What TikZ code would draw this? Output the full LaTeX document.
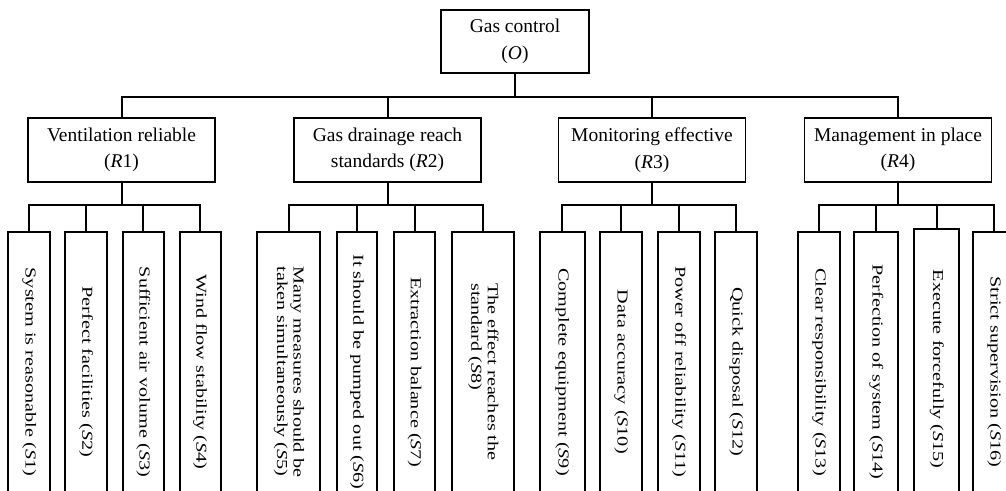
\documentclass[tikz,border=0pt]{standalone}
\usepackage{fontspec}
\setmainfont{Liberation Serif}
\usepackage{graphicx}
\newcommand\leaftext[1]{\rotatebox{-90}{\scalebox{1.33}[1]{\fontsize{7.6}{8.2}\selectfont #1}}}
\newcommand\twoline[2]{\begin{tabular}{@{}l@{}}#1\\#2\end{tabular}}
\begin{document}
\begin{tikzpicture}[x=0.5pt,y=-0.5pt, line width=0.9pt,
  box/.style={draw, inner sep=0pt, align=center, font=\fontsize{9.75}{13.3}\selectfont},
  topbox/.style={box, minimum width=74pt, minimum height=31.5pt},
  midbox/.style={box, minimum width=93.5pt, minimum height=32pt},
  leaf/.style={draw, inner sep=0pt, anchor=north, minimum height=140pt},
  conn/.style={line width=1pt}]
\useasboundingbox (0,0) rectangle (1006,491);
\clip (0,0) rectangle (1006,491);
% top
\node[topbox] (O) at (515,41.5) {Gas control\\(\textit{O})};
% middle level
\node[midbox] (R1) at (121.5,150) {Ventilation reliable\\(\textit{R}1)};
\node[midbox] (R2) at (387.5,150) {Gas drainage reach\\standards (\textit{R}2)};
\node[midbox] (R3) at (652,150) {Monitoring effective\\(\textit{R}3)};
\node[midbox] (R4) at (898,150) {Management in place\\(\textit{R}4)};
% leaves
\node[leaf, minimum width=20.85pt] (S1) at (29.2,231) {\leaftext{System is reasonable (\textit{S}1)}};
\node[leaf, minimum width=21pt] (S2) at (86,231) {\leaftext{Perfect facilities (\textit{S}2)}};
\node[leaf, minimum width=20.65pt] (S3) at (143.3,231) {\leaftext{Sufficient air volume (\textit{S}3)}};
\node[leaf, minimum width=20.5pt] (S4) at (200.2,231) {\leaftext{Wind flow stability (\textit{S}4)}};
\node[leaf, minimum width=31.35pt] (S5) at (288.6,231) {\leaftext{\twoline{Many measures should be}{taken simultaneously (\textit{S}5)}}};
\node[leaf, minimum width=20.3pt] (S6) at (357,231) {\leaftext{It should be pumped out (\textit{S}6)}};
\node[leaf, minimum width=20.5pt] (S7) at (414.5,231) {\leaftext{Extraction balance (\textit{S}7)}};
\node[leaf, minimum width=31.15pt] (S8) at (482.9,231) {\leaftext{\twoline{The effect reaches the}{standard (\textit{S}8)}}};
\node[leaf, minimum width=22.5pt] (S9) at (562.2,231) {\leaftext{Complete equipment (\textit{S}9)}};
\node[leaf, minimum width=21pt] (S10) at (621.3,231) {\leaftext{Data accuracy (\textit{S}10)}};
\node[leaf, minimum width=20.7pt] (S11) at (679,231) {\leaftext{Power off reliability (\textit{S}11)}};
\node[leaf, minimum width=20.85pt] (S12) at (736.2,231) {\leaftext{Quick disposal (\textit{S}12)}};
\node[leaf, minimum width=20.85pt] (S13) at (819.2,231) {\leaftext{Clear responsibility (\textit{S}13)}};
\node[leaf, minimum width=22.15pt] (S14) at (876.2,231) {\leaftext{Perfection of system (\textit{S}14)}};
\node[leaf, minimum width=22.35pt] (S15) at (936.7,228.3) {\leaftext{Execute forcefully (\textit{S}15)}};
\node[leaf, minimum width=21.65pt] (S16) at (994.3,231) {\leaftext{Strict supervision (\textit{S}16)}};
% connectors top -> middle
\coordinate (bO) at (515,97);
\draw[conn] (O.south) -- (bO);
\draw[conn] (R1.north) |- (bO) -| (R4.north);
\draw[conn] (R2.north) -- (R2.north |- bO);
\draw[conn] (R3.north) -- (R3.north |- bO);
% connectors middle -> leaves
\coordinate (b1) at (121.5,205);
\draw[conn] (R1.south) -- (b1);
\draw[conn] (S1.north) |- (b1) -| (S4.north);
\draw[conn] (S2.north) -- (S2.north |- b1);
\draw[conn] (S3.north) -- (S3.north |- b1);
\coordinate (b2) at (387.5,205);
\draw[conn] (R2.south) -- (b2);
\draw[conn] (S5.north) |- (b2) -| (S8.north);
\draw[conn] (S6.north) -- (S6.north |- b2);
\draw[conn] (S7.north) -- (S7.north |- b2);
\coordinate (b3) at (652,205);
\draw[conn] (R3.south) -- (b3);
\draw[conn] (S9.north) |- (b3) -| (S12.north);
\draw[conn] (S10.north) -- (S10.north |- b3);
\draw[conn] (S11.north) -- (S11.north |- b3);
\coordinate (b4) at (898,205.5);
\draw[conn] (R4.south) -- (b4);
\draw[conn] (S13.north) |- (b4) -| (S16.north);
\draw[conn] (S14.north) -- (S14.north |- b4);
\draw[conn] (S15.north) -- (S15.north |- b4);
\end{tikzpicture}
\end{document}
